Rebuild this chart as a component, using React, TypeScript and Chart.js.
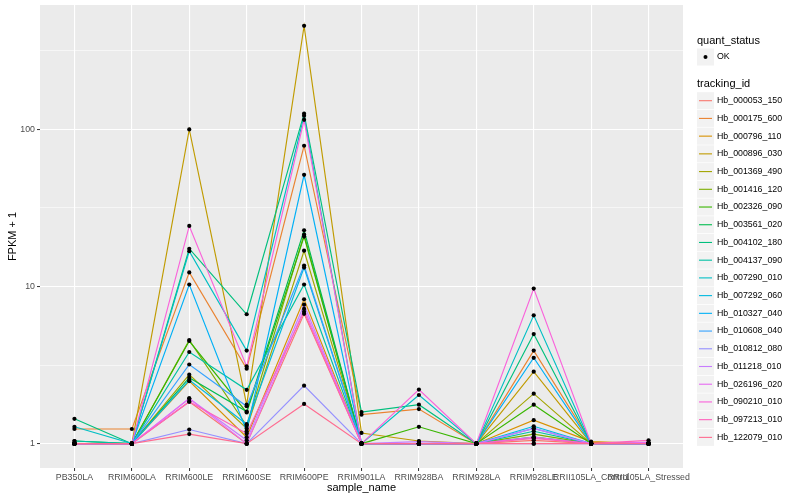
import React, { useEffect, useRef } from "react";
import { Chart, registerables } from "chart.js";

Chart.register(...registerables);

const categories = [
  "PB350LA",
  "RRIM600LA",
  "RRIM600LE",
  "RRIM600SE",
  "RRIM600PE",
  "RRIM901LA",
  "RRIM928BA",
  "RRIM928LA",
  "RRIM928LE",
  "RRII105LA_Control",
  "RRII105LA_Stressed",
];

const trackingIds = [
  "Hb_000053_150",
  "Hb_000175_600",
  "Hb_000796_110",
  "Hb_000896_030",
  "Hb_001369_490",
  "Hb_001416_120",
  "Hb_002326_090",
  "Hb_003561_020",
  "Hb_004102_180",
  "Hb_004137_090",
  "Hb_007290_010",
  "Hb_007292_060",
  "Hb_010327_040",
  "Hb_010608_040",
  "Hb_010812_080",
  "Hb_011218_010",
  "Hb_026196_020",
  "Hb_090210_010",
  "Hb_097213_010",
  "Hb_122079_010",
];

const seriesColors = [
  "#F8766D", "#EA8331", "#D89000", "#C09B00", "#A3A500",
  "#7CAE00", "#39B600", "#00BB4E", "#00BF7D", "#00C1A3",
  "#00BFC4", "#00BAE0", "#00B0F6", "#35A2FF", "#9590FF",
  "#C77CFF", "#E76BF3", "#FA62DB", "#FF62BC", "#FF6C91",
];

// FPKM + 1 per sample, in category order
const hb000053_150 = [1.0, 1.0, 1.85, 1.0, 6.7, 1.0, 1.0, 1.0, 1.05, 1.0, 1.0];
const hb000175_600 = [1.24, 1.24, 12.3, 3.0, 78.7, 1.53, 1.66, 1.0, 3.91, 1.02, 1.0];
const hb000796_110 = [1.0, 1.0, 2.5, 1.1, 8.3, 1.0, 1.0, 1.0, 1.41, 1.03, 1.0];
const hb000896_030 = [1.0, 1.0, 100, 1.77, 456, 1.17, 1.04, 1.0, 2.87, 1.0, 1.0];
const hb001369_490 = [1.0, 1.0, 2.75, 1.25, 16.9, 1.0, 1.0, 1.0, 2.08, 1.0, 1.0];
const hb001416_120 = [1.0, 1.0, 4.56, 1.3, 21.4, 1.0, 1.0, 1.0, 1.15, 1.0, 1.0];
const hb002326_090 = [1.0, 1.0, 4.5, 1.58, 20.8, 1.0, 1.28, 1.0, 1.77, 1.0, 1.0];
const hb003561_020 = [1.04, 1.0, 2.63, 1.6, 22.8, 1.0, 1.0, 1.0, 1.1, 1.0, 1.0];
const hb004102_180 = [1.44, 1.0, 17.4, 6.66, 126, 1.59, 1.77, 1.0, 4.98, 1.0, 1.0];
const hb004137_090 = [1.04, 1.0, 3.83, 2.2, 10.3, 1.0, 1.0, 1.0, 1.2, 1.0, 1.0];
const hb007290_010 = [1.28, 1.0, 16.8, 3.91, 122, 1.0, 2.04, 1.0, 6.56, 1.0, 1.0];
const hb007292_060 = [1.0, 1.0, 2.54, 1.33, 13.2, 1.0, 1.0, 1.0, 1.29, 1.0, 1.0];
const hb010327_040 = [1.0, 1.0, 10.3, 1.2, 51.4, 1.0, 1.0, 1.0, 3.52, 1.0, 1.0];
const hb010608_040 = [1.0, 1.0, 3.19, 1.73, 13.6, 1.0, 1.0, 1.0, 1.25, 1.0, 1.0];
const hb010812_080 = [1.0, 1.0, 1.23, 1.0, 2.34, 1.0, 1.0, 1.0, 1.0, 1.0, 1.0];
const hb011218_010 = [1.0, 1.0, 1.94, 1.05, 7.66, 1.0, 1.03, 1.0, 1.25, 1.0, 1.0];
const hb026196_020 = [1.0, 1.0, 1.94, 1.0, 7.2, 1.0, 1.0, 1.0, 1.1, 1.0, 1.02];
const hb090210_010 = [1.0, 1.0, 24.3, 3.1, 115, 1.0, 2.21, 1.0, 9.71, 1.0, 1.0];
const hb097213_010 = [1.0, 1.0, 1.85, 1.16, 6.9, 1.0, 1.0, 1.0, 1.08, 1.0, 1.05];
const hb122079_010 = [1.0, 1.0, 1.15, 1.0, 1.79, 1.0, 1.0, 1.0, 1.0, 1.0, 1.0];

const seriesValues = [
  hb000053_150, hb000175_600, hb000796_110, hb000896_030, hb001369_490,
  hb001416_120, hb002326_090, hb003561_020, hb004102_180, hb004137_090,
  hb007290_010, hb007292_060, hb010327_040, hb010608_040, hb010812_080,
  hb011218_010, hb026196_020, hb090210_010, hb097213_010, hb122079_010,
];

const yMajorTicks = [1, 10, 100];
const yMinorTicks = [3.1623, 31.623, 316.23];
const yMin = 0.736;
const yMax = 619;

const FONT = "'Liberation Sans', Arial, Helvetica, sans-serif";

const isMajor = (v: number) =>
  Math.abs(Math.log10(v) - Math.round(Math.log10(v))) < 0.01;

const panelBg = {
  id: "panelBg",
  beforeDraw(chart: any) {
    const { ctx, chartArea: a } = chart;
    ctx.save();
    ctx.fillStyle = "#FFFFFF";
    ctx.fillRect(0, 0, chart.width, chart.height);
    ctx.fillStyle = "#EBEBEB";
    ctx.fillRect(a.left, a.top, a.right - a.left, a.bottom - a.top);
    ctx.restore();
  },
};

const ggLegend = {
  id: "ggLegend",
  afterDraw(chart: any) {
    const { ctx } = chart;
    const x0 = 697;
    const key = 17;
    ctx.save();
    ctx.textAlign = "left";
    ctx.textBaseline = "middle";
    ctx.fillStyle = "#000";
    ctx.font = `11px ${FONT}`;
    ctx.fillText("quant_status", x0, 40.5);
    ctx.fillStyle = "#F2F2F2";
    ctx.fillRect(x0, 57 - key / 2, key, key);
    ctx.fillStyle = "#000";
    ctx.beginPath();
    ctx.arc(x0 + key / 2, 57, 2, 0, Math.PI * 2);
    ctx.fill();
    ctx.font = `8.8px ${FONT}`;
    ctx.fillText("OK", x0 + key + 3, 57);
    ctx.font = `11px ${FONT}`;
    ctx.fillText("tracking_id", x0, 84);
    const lines = chart.data.datasets.filter((d: any) => d.isSeries);
    lines.forEach((d: any, i: number) => {
      const cy = 100.7 + i * 17.72;
      ctx.fillStyle = "#F2F2F2";
      ctx.fillRect(x0, cy - key / 2, key, key);
      ctx.strokeStyle = d.borderColor;
      ctx.lineWidth = 1.1;
      ctx.beginPath();
      ctx.moveTo(x0 + 2, cy);
      ctx.lineTo(x0 + key - 2, cy);
      ctx.stroke();
      ctx.fillStyle = "#000";
      ctx.font = `8.8px ${FONT}`;
      ctx.fillText(d.label, x0 + key + 3, cy);
    });
    ctx.restore();
  },
};

export default function App() {
  const canvasRef = useRef<HTMLCanvasElement | null>(null);

  useEffect(() => {
    if (!canvasRef.current) return;
    Chart.defaults.font.family = FONT;

    const lineSets = seriesValues.map((vals, i) => ({
      label: trackingIds[i],
      isSeries: true,
      data: vals.map((v, j) => ({ x: j + 1, y: v })),
      borderColor: seriesColors[i],
      backgroundColor: seriesColors[i],
      borderWidth: 1.15,
      pointRadius: 0,
      pointHoverRadius: 0,
      fill: false,
      tension: 0,
      order: seriesValues.length - i,
      clip: false,
    }));
    const pointSets = seriesValues.map((vals, i) => ({
      label: trackingIds[i] + " points",
      isSeries: false,
      data: vals.map((v, j) => ({ x: j + 1, y: v })),
      showLine: false,
      borderColor: "#000",
      backgroundColor: "#000",
      pointRadius: 2.1,
      pointBorderWidth: 0,
      pointHoverRadius: 2.1,
      order: 0,
      clip: false,
    }));

    const chart = new Chart(canvasRef.current, {
      type: "line",
      data: { datasets: [...lineSets, ...pointSets] as any },
      options: {
        responsive: false,
        animation: false,
        devicePixelRatio: 1,
        layout: { padding: { left: 0, top: 5, right: 117, bottom: 0 } },
        plugins: {
          legend: { display: false },
          tooltip: { enabled: false },
          title: { display: false },
        },
        events: [],
        scales: {
          x: {
            type: "linear",
            min: 0.4,
            max: 11.6,
            afterBuildTicks: (scale: any) => {
              scale.ticks = categories.map((_, i) => ({ value: i + 1 }));
            },
            afterFit: (scale: any) => {
              scale.height = 32;
              scale.paddingLeft = 0;
              scale.paddingRight = 0;
              scale.paddingTop = 0;
              scale.paddingBottom = 0;
            },
            border: { display: false },
            grid: {
              color: "#FFFFFF",
              lineWidth: 1.1,
              drawTicks: true,
              tickLength: 3,
              tickColor: "#333333",
              tickWidth: 1,
            },
            ticks: {
              autoSkip: false,
              maxRotation: 0,
              minRotation: 0,
              padding: 1,
              color: "#4D4D4D",
              font: { size: 8.8 },
              callback: (v: any) => categories[Math.round(Number(v)) - 1] ?? "",
            },
            title: {
              display: true,
              text: "sample_name",
              color: "#000",
              font: { size: 11 },
              padding: { top: 0, bottom: 5.5 },
            },
          },
          y: {
            type: "logarithmic",
            min: yMin,
            max: yMax,
            afterBuildTicks: (scale: any) => {
              scale.ticks = [...yMajorTicks, ...yMinorTicks]
                .sort((a, b) => a - b)
                .map((v) => ({ value: v }));
            },
            afterFit: (scale: any) => {
              scale.width = 40;
              scale.paddingLeft = 0;
              scale.paddingRight = 0;
              scale.paddingTop = 0;
              scale.paddingBottom = 0;
            },
            border: { display: false },
            grid: {
              color: "#FFFFFF",
              lineWidth: (c: any) => (c.tick && isMajor(c.tick.value) ? 1.1 : 0.55),
              drawTicks: true,
              tickLength: 3,
              tickColor: (c: any) =>
                c.tick && isMajor(c.tick.value) ? "#333333" : "rgba(0,0,0,0)",
              tickWidth: 1,
            },
            ticks: {
              padding: 2,
              color: "#4D4D4D",
              font: { size: 8.8 },
              callback: (v: any) => {
                const n = Number(v);
                return yMajorTicks.some((m) => Math.abs(m - n) < 1e-6) ? String(n) : "";
              },
            },
            title: {
              display: true,
              text: "FPKM + 1",
              color: "#000",
              font: { size: 11 },
              padding: { top: 6.5, bottom: 0 },
            },
          },
        },
      } as any,
      plugins: [panelBg, ggLegend],
    });

    return () => chart.destroy();
  }, []);

  return (
    <div style={{ position: "fixed", left: 0, top: 0, width: 800, height: 500, background: "#fff" }}>
      <canvas ref={canvasRef} width={800} height={500} style={{ width: 800, height: 500, display: "block" }} />
    </div>
  );
}
